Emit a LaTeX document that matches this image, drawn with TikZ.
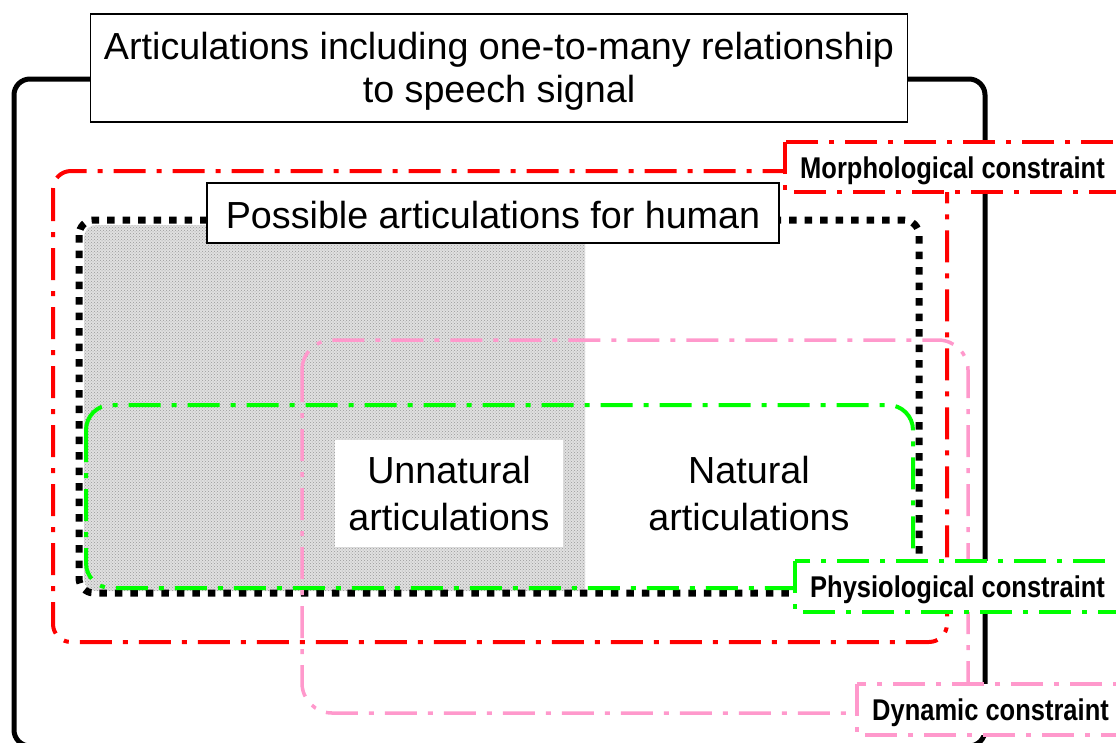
\documentclass[tikz,border=0pt]{standalone}
\usepackage{fontspec}
\setmainfont{Liberation Sans}
\newfontfamily\narrowbold[FakeStretch=0.85]{Liberation Sans Bold}
\usetikzlibrary{patterns}
\definecolor{cred}{RGB}{255,0,0}
\definecolor{cgreen}{RGB}{0,255,0}
\definecolor{cpink}{RGB}{255,153,204}
\begin{document}
\begin{tikzpicture}[x=1pt,y=-1pt,
  dashdot/.style={dash pattern=on 32pt off 11pt on 5pt off 11pt},
  bigtext/.style={font=\fontsize{37.7}{44}\selectfont, inner sep=0pt},
  labeltext/.style={font=\fontsize{30}{34}\narrowbold, inner sep=0pt},
  thinbox/.style={draw=black, line width=1.5pt, fill=white},
  cbox/.style={line width=3.5pt, dashdot, fill=white}]
\useasboundingbox (0,0) rectangle (1116,742);
% grey stippled area
\fill[black!12] (585,225) [rounded corners=12pt] -- (84,225) -- (84,591) [sharp corners] -- (585,591) -- cycle;
\fill[pattern=crosshatch dots, pattern color=black!40] (585,225) [rounded corners=12pt] -- (84,225) -- (84,591) [sharp corners] -- (585,591) -- cycle;
% outer black frame
\draw[line width=5pt, rounded corners=16pt] (14,79) rectangle (985,746);
% red morphological constraint
\draw[cred, line width=4pt, dashdot, rounded corners=18pt] (53,171) rectangle (947,642);
% black dotted possible articulations
\draw[line width=7pt, dash pattern=on 7.5pt off 8pt, rounded corners=15pt] (79,220) rectangle (919,593);
% green physiological constraint
\draw[cgreen, line width=4pt, dashdot, rounded corners=25pt] (86,405) rectangle (913,588);
% pink dynamic constraint
\draw[cpink, line width=3.5pt, dashdot, rounded corners=30pt] (302,340) rectangle (968,713);
% title box
\node[thinbox, minimum width=817pt, minimum height=108pt, inner sep=0pt] (titlebox) at (499,68) {};
\node[bigtext, anchor=base] (title1) at (499,59) {Articulations including one-to-many relationship};
\node[bigtext, anchor=base] (title2) at (499,102) {to speech signal};
% possible articulations box
\node[thinbox, minimum width=572pt, minimum height=60pt, inner sep=0pt] (possbox) at (493,213) {};
\node[bigtext, anchor=base] (poss) at (493,228) {Possible articulations for human};
% unnatural articulations
\node[fill=white, minimum width=228pt, minimum height=107pt, inner sep=0pt] (unnatbox) at (449,493) {};
\node[bigtext, anchor=base] (unnat1) at (449,483) {Unnatural};
\node[bigtext, anchor=base] (unnat2) at (449,530) {articulations};
% natural articulations
\node[bigtext, anchor=base] (nat1) at (749,483) {Natural};
\node[bigtext, anchor=base] (nat2) at (749,530) {articulations};
% constraint labels
\draw[cbox, draw=cred] (785,142) rectangle (1135,192);
\node[labeltext, anchor=base west] (morph) at (800,178) {Morphological constraint};
\draw[cbox, draw=cgreen] (795,561) rectangle (1135,612);
\node[labeltext, anchor=base west] (physio) at (810,597) {Physiological constraint};
\draw[cbox, draw=cpink] (857,684) rectangle (1135,735);
\node[labeltext, anchor=base west] (dyn) at (872,720) {Dynamic constraint};
\end{tikzpicture}
\end{document}
